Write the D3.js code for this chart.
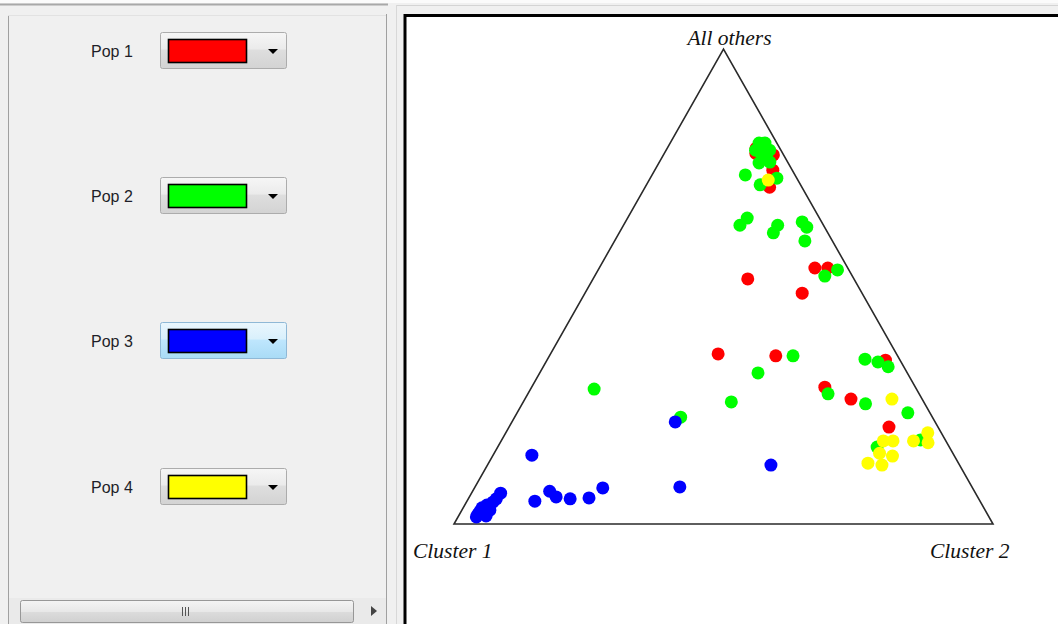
<!DOCTYPE html>
<html><head><meta charset="utf-8">
<script src="https://cdn.jsdelivr.net/npm/d3@7"></script>
<style>html,body{margin:0;padding:0;background:#f0f0f0;overflow:hidden}</style>
</head><body>
<svg id="c" width="1058" height="624"></svg>
<script>
// Population names and their chosen colours
const popNames = ["Pop 1", "Pop 2", "Pop 3", "Pop 4"];
const popColors = ["#ff0000", "#00ff00", "#0000ff", "#ffff00"];
// Vertex labels
const vertexLabels = ["Cluster 1", "Cluster 2", "All others"];
// Membership proportions per individual: [Cluster 1, Cluster 2, All others]
const pop1 = [
  [0.044,0.165,0.791],[0.050,0.170,0.780],[0.019,0.204,0.777],[0.036,0.219,0.745],
  [0.060,0.231,0.709],[0.061,0.400,0.539],[0.037,0.424,0.539],[0.197,0.287,0.516],
  [0.111,0.403,0.486],[0.331,0.311,0.358],[0.226,0.420,0.354],[0.168,0.544,0.288],
  [0.132,0.605,0.263],[0.027,0.628,0.345],[0.091,0.705,0.204]
];
const pop2 = [
  [0.033,0.165,0.802],[0.022,0.176,0.802],[0.041,0.176,0.783],[0.034,0.193,0.773],
  [0.054,0.186,0.760],[0.033,0.205,0.762],[0.037,0.235,0.728],[0.092,0.173,0.735],
  [0.075,0.211,0.714],[0.155,0.216,0.629],[0.134,0.222,0.644],[0.085,0.286,0.629],
  [0.101,0.286,0.613],[0.036,0.328,0.636],[0.033,0.342,0.625],[0.051,0.353,0.596],
  [0.021,0.444,0.535],[0.051,0.427,0.522],[0.194,0.452,0.354],[0.277,0.405,0.318],
  [0.169,0.557,0.274],[0.110,0.637,0.253],[0.041,0.725,0.234],[0.064,0.589,0.347],
  [0.043,0.616,0.341],[0.029,0.640,0.331],[0.357,0.386,0.257],[0.467,0.308,0.225],
  [0.046,0.777,0.177],[0.134,0.704,0.162],[0.598,0.118,0.284],[0.047,0.166,0.787],
  [0.021,0.192,0.787]
];
const pop3 = [
  [0.783,0.072,0.145],[0.881,0.054,0.065],[0.826,0.126,0.048],[0.788,0.143,0.069],
  [0.782,0.161,0.057],[0.758,0.189,0.053],[0.722,0.223,0.055],[0.686,0.238,0.076],
  [0.542,0.380,0.078],[0.482,0.303,0.215],[0.350,0.526,0.124],[0.945,0.034,0.021],
  [0.933,0.044,0.023],[0.919,0.052,0.029],[0.919,0.041,0.040],[0.905,0.049,0.046],
  [0.895,0.052,0.053],[0.931,0.035,0.034],[0.951,0.034,0.015],[0.932,0.051,0.017],
  [0.938,0.035,0.027]
];
const pop4 = [
  [0.055,0.221,0.724],[0.056,0.681,0.263],[0.116,0.709,0.175],[0.098,0.727,0.175],
  [0.060,0.765,0.175],[0.025,0.783,0.192],[0.035,0.794,0.171],[0.136,0.715,0.149],
  [0.115,0.742,0.143],[0.168,0.704,0.128],[0.144,0.732,0.124]
];
const pops = [pop1, pop2, pop3, pop4];

const svg = d3.select("#c");
const defs = svg.append("defs");
function grad(id, stops){
  const g = defs.append("linearGradient").attr("id", id).attr("x1",0).attr("y1",0).attr("x2",0).attr("y2",1);
  stops.forEach(s => g.append("stop").attr("offset", s[0]).attr("stop-color", s[1]));
}
grad("btn", [[0,"#f6f6f6"],[0.45,"#ebebeb"],[0.5,"#dedede"],[1,"#d3d3d3"]]);
grad("btnHot", [[0,"#eaf6fd"],[0.45,"#d9f0fc"],[0.5,"#bee6fd"],[1,"#a9dbf6"]]);
grad("thumb", [[0,"#f4f4f4"],[0.5,"#e8e8e8"],[0.51,"#dcdcdc"],[1,"#d0d0d0"]]);

// window chrome
svg.append("rect").attr("x",0).attr("y",0).attr("width",1058).attr("height",624).attr("fill","#f0f0f0");
svg.append("rect").attr("x",0).attr("y",0).attr("width",1058).attr("height",3).attr("fill","#fbfbfb");
svg.append("line").attr("x1",0).attr("x2",388).attr("y1",4.5).attr("y2",4.5).attr("stroke","#a8a8a8").attr("stroke-width",2);
svg.append("line").attr("x1",396).attr("x2",1058).attr("y1",5.5).attr("y2",5.5).attr("stroke","#d4d4d4").attr("stroke-width",1);
// left panel
svg.append("line").attr("x1",8.5).attr("x2",8.5).attr("y1",15).attr("y2",624).attr("stroke","#a0a0a0");
svg.append("line").attr("x1",8).attr("x2",386).attr("y1",15.5).attr("y2",15.5).attr("stroke","#e2e2e2");
svg.append("line").attr("x1",386.5).attr("x2",386.5).attr("y1",14).attr("y2",624).attr("stroke","#a0a0a0");
svg.append("line").attr("x1",396.5).attr("x2",396.5).attr("y1",5).attr("y2",624).attr("stroke","#d8d8d8");

const rowY = [51, 196, 341, 487];
const left = svg.append("g");
popNames.forEach((name, i) => {
  const cy = rowY[i];
  left.append("text").attr("x",91).attr("y",cy+6).text(name)
    .attr("font-family","'Liberation Sans', Arial, sans-serif").attr("font-size",16).attr("fill","#1e1e28");
  left.append("rect").attr("x",160.5).attr("y",cy-18.5).attr("width",126).attr("height",36).attr("rx",2)
    .attr("fill", i===2 ? "url(#btnHot)" : "url(#btn)")
    .attr("stroke", i===2 ? "#8fb8d6" : "#acacac");
  left.append("rect").attr("x",168.5).attr("y",cy-11.5).attr("width",78).attr("height",23)
    .attr("fill", popColors[i]).attr("stroke","#000").attr("stroke-width",1.6);
  left.append("path").attr("d",`M268,${cy-2}L278,${cy-2}L273,${cy+3}Z`).attr("fill","#000");
});
// scrollbar
svg.append("rect").attr("x",9).attr("y",598).attr("width",377).attr("height",26).attr("fill","#eaeaea");
svg.append("rect").attr("x",20.5).attr("y",600.5).attr("width",333).attr("height",22).attr("rx",2)
  .attr("fill","url(#thumb)").attr("stroke","#979797");
[182,185,188].forEach(gx => svg.append("line").attr("x1",gx+0.5).attr("x2",gx+0.5).attr("y1",607).attr("y2",616).attr("stroke","#555"));
svg.append("path").attr("d","M371,606L377,611L371,616Z").attr("fill","#444");

// right panel: plotting frame
svg.append("rect").attr("x",405).attr("y",15.5).attr("width",700).attr("height",700).attr("fill","#fff")
  .attr("stroke","#000").attr("stroke-width",3);

// ternary scales
const x = d3.scaleLinear().domain([0,1]).range([454, 993]);
const y = d3.scaleLinear().domain([0,1]).range([524, 49]);
const proj = d => [x(d[1] + d[2]/2), y(d[2])];

const verts = [[1,0,0],[0,1,0],[0,0,1]].map(proj);
svg.append("path").attr("d", d3.line()(verts) + "Z").attr("fill","none")
  .attr("stroke","#2a2a2a").attr("stroke-width",1.6).attr("stroke-linejoin","miter");

const lab = {"font-family":"'Liberation Serif', 'Times New Roman', serif","font-style":"italic","font-size":21.5,"fill":"#111"};
function addText(t, tx, ty, anchor){
  const el = svg.append("text").attr("x",tx).attr("y",ty).attr("text-anchor",anchor).text(t);
  Object.entries(lab).forEach(([k,v]) => el.attr(k,v));
}
addText(vertexLabels[0], verts[0][0]-41, 558, "start");
addText(vertexLabels[1], verts[1][0]-63, 558, "start");
addText(vertexLabels[2], verts[2][0]+6, 45, "middle");

pops.forEach((p, i) => {
  svg.append("g").selectAll("circle").data(p).join("circle")
    .attr("cx", d => proj(d)[0]).attr("cy", d => proj(d)[1]).attr("r",6.5)
    .attr("fill", popColors[i]);
});
</script>
</body></html>
